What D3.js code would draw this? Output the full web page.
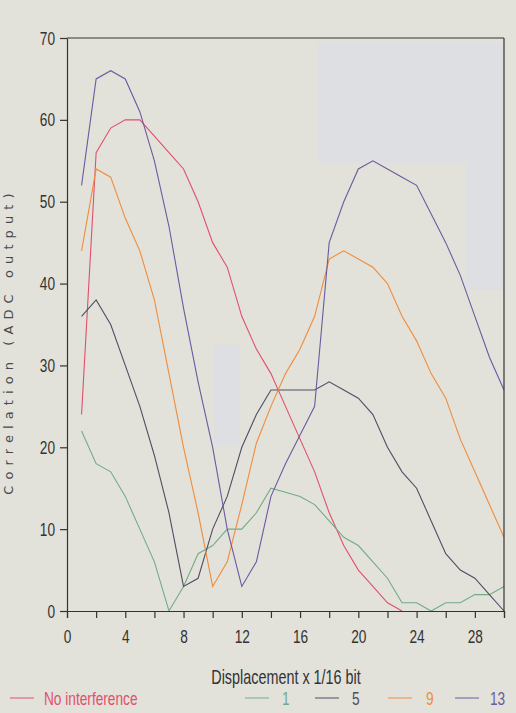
<!DOCTYPE html>
<html>
<head>
<meta charset="utf-8">
<script src="https://cdn.jsdelivr.net/npm/d3@7"></script>
<style>
	body { margin: 0; background: #e2e2da; }
	svg { display: block; }
	.tick text { font-family: "Liberation Sans", Arimo, sans-serif; font-size: 19px; fill: #333; }
</style>
</head>
<body>
<div id="main_node"></div>
<script>
// displacement in 1/16 bit steps
var displacement = d3.range(1, 31);

var noInterference = [24, 56, 59, 60, 60, 58, 56, 54, 50, 45, 42, 36, 32, 29, 25, 21, 17, 12, 8, 5, 3, 1, 0];
var interf1 = [22, 18, 17, 14, 10, 6, 0, 3, 7, 8, 10, 10, 12, 15, 14.5, 14, 13, 11, 9, 8, 6, 4, 1, 1, 0, 1, 1, 2, 2, 3];
var interf5 = [36, 38, 35, 30, 25, 19, 12, 3, 4, 10, 14, 20, 24, 27, 27, 27, 27, 28, 27, 26, 24, 20, 17, 15, 11, 7, 5, 4, 2, 0];
var interf9 = [44, 54, 53, 48, 44, 38, 29, 20, 12, 3, 6, 13, 20.5, 25, 29, 32, 36, 43, 44, 43, 42, 40, 36, 33, 29, 26, 21, 17, 13, 9];
var interf13 = [52, 65, 66, 65, 61, 55, 47, 37, 28, 20, 10, 3, 6, 14, 18, 21.5, 25, 45, 50, 54, 55, 54, 53, 52, 48.5, 45, 41, 36, 31, 27];

var xTicks = d3.range(0, 31, 2);
var xLabels = [0, 4, 8, 12, 16, 20, 24, 28];
var yTicks = [0, 10, 20, 30, 40, 50, 60, 70];

var series = [
	{ name: "No interference", values: noInterference, color: "#e0506c" },
	{ name: "1", values: interf1, color: "#72ab88" },
	{ name: "5", values: interf5, color: "#4e4e66" },
	{ name: "9", values: interf9, color: "#f08c3c" },
	{ name: "13", values: interf13, color: "#6b5aa2" },
];

var width = 516,
	height = 713;
var narrow = 0.72; // the plotter font is much narrower than anything installed

var svg = d3.select("#main_node")
	.append("svg")
	.attr("width", width)
	.attr("height", height);

var x = d3.scaleLinear().domain([0, 30]).range([67, 504]);
var y = d3.scaleLinear().domain([0, 70]).range([611, 38]);

// lighter scan patches behind the plot
svg.append("rect").attr("x", 318).attr("y", 43).attr("width", 186).attr("height", 120).attr("fill", "#dedfe2");
svg.append("rect").attr("x", 466).attr("y", 163).attr("width", 38).attr("height", 127).attr("fill", "#dedfe2");
svg.append("rect").attr("x", 214).attr("y", 345).attr("width", 26).attr("height", 100).attr("fill", "#dedfe2");

var line = d3.line()
	.x(function (d) { return x(d.x); })
	.y(function (d) { return y(d.y); });

series.forEach(function (s) {
	var pts = s.values.map(function (v, i) {
		return { x: displacement[i], y: v };
	});
	svg.append("path")
		.datum(pts)
		.attr("d", line)
		.attr("fill", "none")
		.attr("stroke", s.color)
		.attr("stroke-width", 1.1);
});

// frame
svg.append("line").attr("x1", 67).attr("x2", 504).attr("y1", 38).attr("y2", 38).attr("stroke", "#333").attr("stroke-width", 1.2);
svg.append("line").attr("x1", 504).attr("x2", 504).attr("y1", 38).attr("y2", 611).attr("stroke", "#333").attr("stroke-width", 1.2);

var xAxis = svg.append("g")
	.attr("transform", "translate(0,611)")
	.call(d3.axisBottom(x).tickValues(xTicks).tickSize(7).tickPadding(12)
		.tickFormat(function (d) { return xLabels.indexOf(d) >= 0 ? d : ""; }));
xAxis.select(".domain").attr("stroke", "#333").attr("stroke-width", 1.2);
xAxis.selectAll(".tick line").attr("stroke", "#333").attr("stroke-width", 1.2);
xAxis.selectAll(".tick text").attr("transform", "scale(" + narrow + ",1)");

var yAxis = svg.append("g")
	.attr("transform", "translate(67,0)")
	.call(d3.axisLeft(y).tickValues(yTicks).tickSize(7).tickPadding(5).tickSizeOuter(0));
yAxis.select(".domain").attr("stroke", "#333").attr("stroke-width", 1.2);
yAxis.selectAll(".tick line").attr("stroke", "#333").attr("stroke-width", 1.2);
yAxis.selectAll(".tick text")
	.attr("x", -12 / narrow)
	.attr("transform", "scale(" + narrow + ",1)");

function narrowText(px, py, txt, size, color, anchor) {
	return svg.append("text")
		.attr("transform", "translate(" + px + "," + py + ") scale(" + narrow + ",1)")
		.attr("text-anchor", anchor || "start")
		.style("font-family", "'Liberation Sans', Arimo, sans-serif")
		.style("font-size", size + "px")
		.attr("fill", color)
		.text(txt);
}

narrowText(286, 684, "Displacement x 1/16 bit", 20, "#333", "middle");

svg.append("text")
	.attr("transform", "translate(13,341) rotate(-90)")
	.attr("text-anchor", "middle")
	.style("font-family", "'DejaVu Sans', sans-serif")
	.style("font-size", "13px")
	.style("letter-spacing", "6.1px")
	.attr("fill", "#4a4a4a")
	.text("Correlation (ADC output)");

// legend
var legendPos = [
	{ x1: 10, tx: 44 },
	{ x1: 245, tx: 282 },
	{ x1: 315, tx: 352 },
	{ x1: 388, tx: 426 },
	{ x1: 455, tx: 490 },
];
series.forEach(function (s, i) {
	svg.append("line")
		.attr("x1", legendPos[i].x1).attr("x2", legendPos[i].x1 + 24)
		.attr("y1", 698).attr("y2", 698)
		.attr("stroke", s.color).attr("stroke-width", 1);
	narrowText(legendPos[i].tx, 705, s.name, 19, s.color);
});
</script>
</body>
</html>
